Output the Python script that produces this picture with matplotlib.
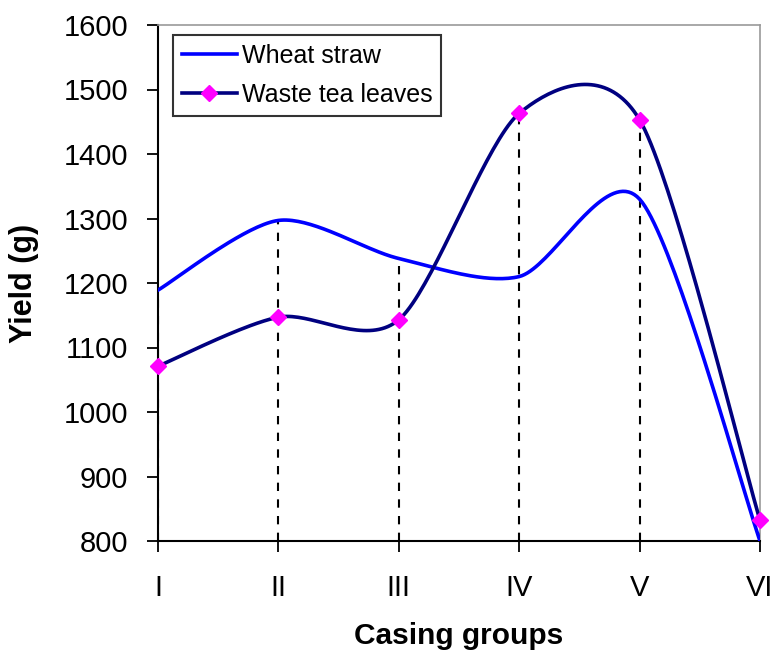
import numpy as np
import matplotlib.pyplot as plt

# Casing groups and yields (g)
GROUPS = ['I', 'II', 'III', 'IV', 'V', 'VI']
WHEAT_STRAW = [1189, 1297, 1238, 1210, 1330, 800]
WASTE_TEA = [1071, 1147, 1143, 1463, 1453, 832]

Y_TICKS = [800, 900, 1000, 1100, 1200, 1300, 1400, 1500, 1600]


def smooth_curve(x, y, tension=0.14, n=40):
    """Excel-like smoothed line: Bezier segments with Catmull-Rom control points."""
    p = np.column_stack([x, y]).astype(float)
    pts = []
    for i in range(len(p) - 1):
        p0 = p[max(i - 1, 0)]
        p1 = p[i]
        p2 = p[i + 1]
        p3 = p[min(i + 2, len(p) - 1)]
        c1 = p1 + (p2 - p0) * tension
        c2 = p2 - (p3 - p1) * tension
        t = np.linspace(0, 1, n)[:, None]
        seg = ((1 - t) ** 3 * p1 + 3 * (1 - t) ** 2 * t * c1
               + 3 * (1 - t) * t ** 2 * c2 + t ** 3 * p2)
        pts.append(seg if i == 0 else seg[1:])
    pts = np.vstack(pts)
    return pts[:, 0], pts[:, 1]


plt.rcParams['font.family'] = ['Liberation Sans', 'DejaVu Sans']

fig = plt.figure(figsize=(7.73, 6.53), dpi=100)
ax = fig.add_axes([158 / 773, 112 / 653, 602 / 773, 516 / 653])

x = np.arange(len(GROUPS))

# drop lines from the axis to the highest series at each group
tops = np.maximum(WHEAT_STRAW, WASTE_TEA)
ax.vlines(x, 800, tops, colors='black', linestyles=(0, (4, 4)), linewidth=1.5, zorder=1)

xs, ys = smooth_curve(x, WHEAT_STRAW)
ax.plot(xs, ys, color='#0000FF', linewidth=2.6, zorder=3, label='Wheat straw')

xs, ys = smooth_curve(x, WASTE_TEA)
ax.plot(xs, ys, color='#000080', linewidth=2.6, zorder=3)
ax.plot(x, WASTE_TEA, linestyle='none', marker='D', markersize=8.5,
        color='#FF00FF', markeredgecolor='#FF00FF', zorder=4, clip_on=False)
# legend proxy for line + marker
ax.plot([], [], color='#000080', linewidth=2.6, marker='D', markersize=8.5,
        markerfacecolor='#FF00FF', markeredgecolor='#FF00FF', label='Waste tea leaves')

ax.set_xlim(0, 5)
ax.set_ylim(800, 1600)
ax.set_xticks(x)
ax.set_xticklabels(GROUPS)
ax.set_yticks(Y_TICKS)

ax.tick_params(axis='both', direction='out', length=8, width=1.3, labelsize=21, color='black')
ax.tick_params(axis='y', pad=13.5)
ax.tick_params(axis='x', pad=16)

for side in ['left', 'bottom']:
    ax.spines[side].set_color('black')
    ax.spines[side].set_linewidth(1.5)
for side in ['top', 'right']:
    ax.spines[side].set_color('#9a9a9a')
    ax.spines[side].set_linewidth(1.2)

ax.set_xlabel('Casing groups', fontsize=21.5, fontweight='bold', labelpad=14)
ax.set_ylabel('Yield (g)', fontsize=22, fontweight='bold', labelpad=18)

leg = ax.legend(loc='upper left', bbox_to_anchor=(173 / 773, 1 - 35 / 653),
                bbox_transform=fig.transFigure, fontsize=18, frameon=True,
                fancybox=False, handlelength=2.2, handletextpad=0.2,
                borderpad=0.35, labelspacing=0.6, borderaxespad=0)
leg.get_frame().set_edgecolor('black')
leg.get_frame().set_linewidth(1.5)

fig.savefig('out.png', dpi=100)
